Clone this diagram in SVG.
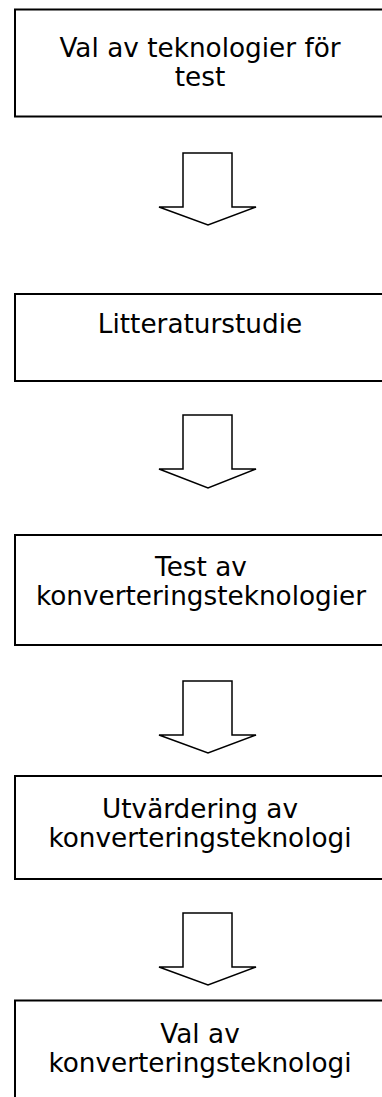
<svg xmlns="http://www.w3.org/2000/svg" width="382" height="1097" viewBox="0 0 382 1097">
<style>
.box{fill:#fff;stroke:#000;stroke-width:2}
.arr{fill:#fff;stroke:#000;stroke-width:1.5;stroke-linejoin:miter}
.t{font-family:"DejaVu Sans",Verdana,sans-serif;font-size:26.3px;fill:#000;text-anchor:middle}
</style>
<rect width="382" height="1097" fill="#fff"/>
<g id="connectors">
<polygon class="arr" points="183,153 232,153 232,207 256,207 208,225 159,207 183,207"/>
<polygon class="arr" points="183,415 232,415 232,469 256,469 208,488 159,469 183,469"/>
<polygon class="arr" points="183,681 232,681 232,735 256,735 208,753 159,735 183,735"/>
<polygon class="arr" points="183,913 232,913 232,967 256,967 208,985 159,967 183,967"/>
</g>
<g id="n1">
<rect class="box" x="15" y="9.5" width="380" height="107"/>
<text class="t" x="200" y="57">Val av teknologier för</text>
<text class="t" x="200" y="86">test</text>
</g>
<g id="n2">
<rect class="box" x="15" y="294" width="380" height="87"/>
<text class="t" x="200" y="333">Litteraturstudie</text>
</g>
<g id="n3">
<rect class="box" x="15" y="535" width="380" height="110"/>
<text class="t" x="201" y="576">Test av</text>
<text class="t" x="201" y="605">konverteringsteknologier</text>
</g>
<g id="n4">
<rect class="box" x="15" y="776" width="380" height="103"/>
<text class="t" x="200" y="818">Utvärdering av</text>
<text class="t" x="200" y="847">konverteringsteknologi</text>
</g>
<g id="n5">
<rect class="box" x="15" y="1000.5" width="380" height="120"/>
<text class="t" x="200" y="1043">Val av</text>
<text class="t" x="200" y="1072">konverteringsteknologi</text>
</g>
</svg>
